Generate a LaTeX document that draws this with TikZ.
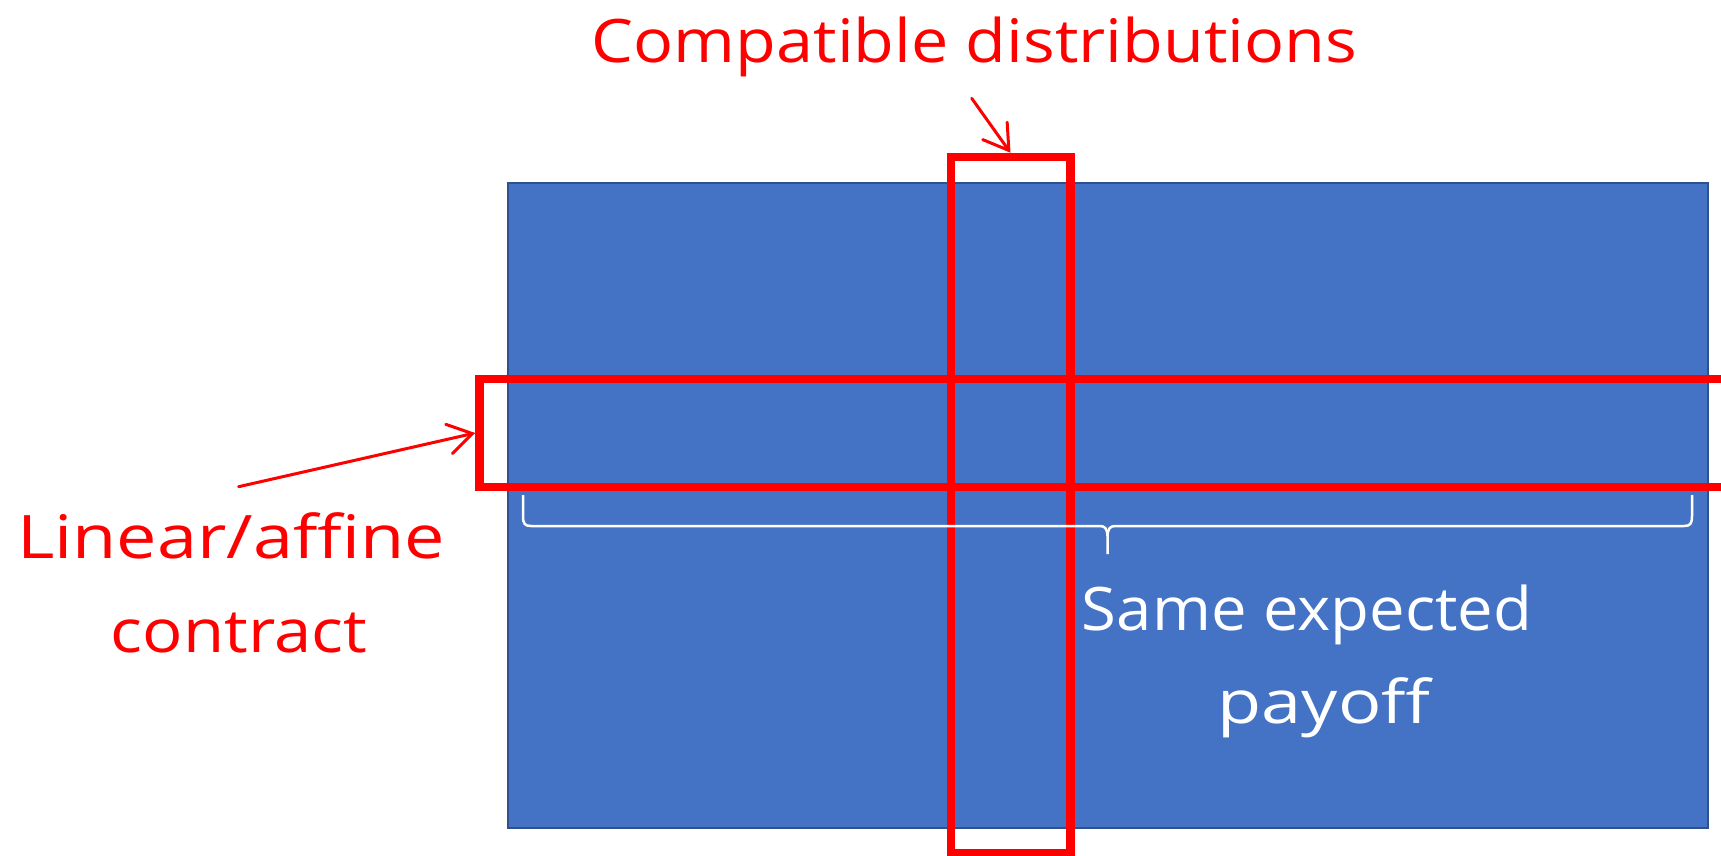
\documentclass[tikz,border=0pt]{standalone}
\usepackage{fontspec}
\setmainfont{Open Sans}
\usetikzlibrary{arrows.meta}
\definecolor{bluefill}{HTML}{4472C4}
\definecolor{blueedge}{HTML}{2F528F}
\definecolor{pptred}{HTML}{FF0000}
\begin{document}
\begin{tikzpicture}[x=1pt,y=-1pt,
  redbox/.style={draw=pptred, line width=8.5pt, inner sep=0pt},
  redarrow/.style={draw=pptred, line width=3pt, line cap=round, -{Straight Barb[length=24pt,width=30pt,line cap=round]}},
  bracestyle/.style={draw=white, line width=2.5pt},
  redtext/.style={text=pptred, inner sep=0pt, font=\fontsize{60pt}{64pt}\selectfont},
  whitetext/.style={text=white, inner sep=0pt, font=\fontsize{60pt}{64pt}\selectfont}]
\useasboundingbox (0,0) rectangle (1721,856);
\node[draw=blueedge, fill=bluefill, line width=1.5pt, minimum width=1200pt, minimum height=645pt, inner sep=0pt, anchor=north west] (board) at (507,182) {};
\node[redbox, minimum width=119.5pt, minimum height=696.5pt] (vrect) at (1010.5,505.25) {};
\node[redbox, minimum width=1260.5pt, minimum height=108pt] (hrect) at (1109.75,433) {};
\coordinate (ctail) at (971.7,98.3);
\coordinate (ltail) at (238.6,486.7);
\draw[redarrow] (ctail) -- (vrect.north);
\draw[redarrow] (ltail) -- (hrect.west);
\draw[bracestyle] (523,495) -- (523,516) .. controls (523,524) and (525,526) .. (531,526) -- (1099,526) .. controls (1105,526) and (1107,528) .. (1107.5,536) -- (1107.5,554);
\draw[bracestyle] (1692,495) -- (1692,516) .. controls (1692,524) and (1690,526) .. (1684,526) -- (1116,526) .. controls (1110,526) and (1108,528) .. (1107.5,536);
\node[redtext, anchor=base] (compat) at (974.5,63) {\scalebox{1.108}[1]{Compatible distributions}};
\node[redtext, anchor=base] (lin1) at (231,558) {\scalebox{1.2}[1]{Linear/affine}};
\node[redtext, anchor=base] (lin2) at (239,652) {\scalebox{1.117}[1]{contract}};
\node[whitetext, anchor=base] (same1) at (1307,630) {\scalebox{1.057}[1]{Same expected}};
\node[whitetext, anchor=base] (same2) at (1324,723) {\scalebox{1.2}[1]{payoff}};
\end{tikzpicture}
\end{document}
